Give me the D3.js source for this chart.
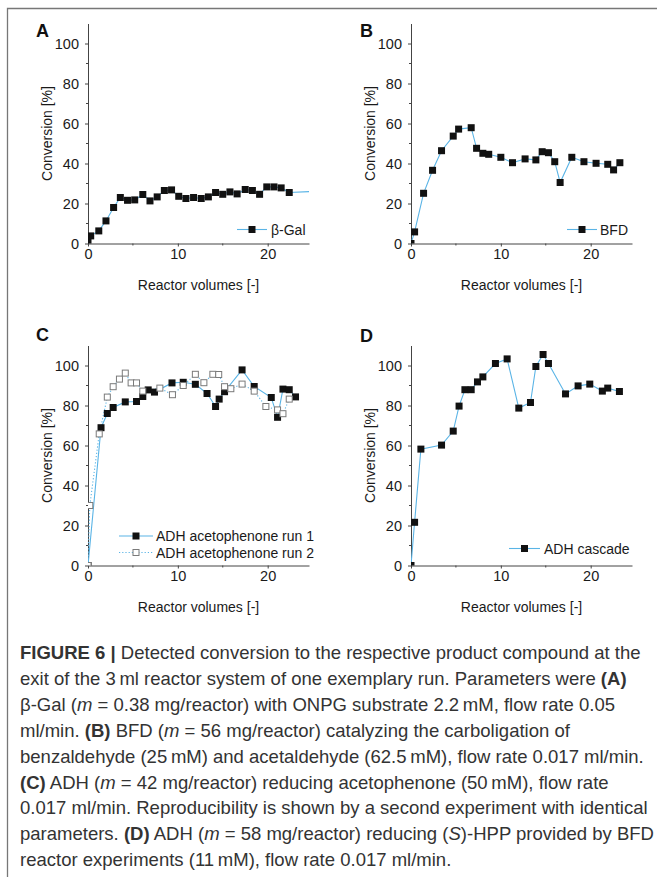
<!DOCTYPE html>
<html>
<head>
<meta charset="utf-8">
<script src="https://cdn.jsdelivr.net/npm/d3@7/dist/d3.min.js"></script>
<style>
  body { margin: 0; background: #fff; }
  svg { display: block; }
  .tick text { font-family: "Liberation Sans", Arial, sans-serif; font-size: 14.5px; fill: #1a1a1a; }
</style>
</head>
<body>
<div id="fig"></div>
<script>
// panel A: beta-Gal
var galX = [0, 0.3, 1.2, 2.0, 2.85, 3.6, 4.4, 5.2, 6.1, 6.9, 7.7, 8.5, 9.3, 10.1, 10.9, 11.75, 12.6, 13.4, 14.2, 15.0, 15.8, 16.6, 17.5, 18.3, 19.1, 19.9, 20.7, 21.5, 22.4];
var galY = [0.5, 3.8, 6.3, 11.3, 18, 23, 21.6, 21.8, 24.5, 21.3, 23.3, 26.5, 26.8, 23.6, 22.5, 23, 22.5, 23.3, 25.5, 24.6, 25.8, 24.8, 27, 26.5, 24.6, 28.3, 28.3, 27.8, 25.5];
var galTail = [24.8, 26];   // line runs on past the last marker

// panel B: BFD
var bfdX = [0, 0.4, 1.4, 2.4, 3.4, 4.7, 5.3, 6.7, 7.3, 8.0, 8.65, 10.0, 11.3, 12.7, 13.9, 14.6, 15.3, 16.0, 16.6, 17.9, 19.25, 20.6, 21.9, 22.55, 23.25];
var bfdY = [0, 5.8, 25.1, 36.6, 46.4, 53.7, 57.2, 57.9, 47.6, 45.1, 44.6, 43.1, 40.4, 42.3, 41.8, 45.9, 45.4, 40.9, 30.5, 43.1, 40.9, 40.1, 39.6, 36.8, 40.4];

// panel C: ADH acetophenone, two runs
var adh1X = [0, 1.45, 2.15, 2.8, 4.15, 5.4, 6.1, 6.7, 7.4, 9.35, 10.6, 11.95, 13.25, 14.2, 14.6, 15.2, 17.15, 18.5, 20.4, 21.1, 21.7, 22.4, 23.1];
var adh1Y = [0, 68.9, 76, 79, 81.8, 82, 84.5, 87.8, 86.7, 91.3, 91.6, 90.6, 86, 79.5, 83.2, 86.9, 97.8, 89.5, 84, 74.1, 88.2, 87.9, 84.3];
var adh2X = [0, 0.2, 1.25, 2.15, 2.8, 3.5, 4.15, 4.8, 5.4, 6.1, 8.0, 9.4, 10.6, 11.95, 12.9, 13.9, 14.55, 15.2, 15.9, 17.15, 18.5, 19.8, 21.1, 21.7, 22.4];
var adh2Y = [0, 30, 65.8, 84.2, 89.4, 93.2, 96.2, 91.3, 91.3, 87.2, 88.7, 85.4, 90, 95.6, 91.4, 95.6, 95.5, 89.4, 88.4, 90.7, 87.2, 79.5, 77.8, 75.9, 83.2];

// panel D: ADH cascade
var cascX = [0, 0.4, 1.1, 3.4, 4.7, 5.35, 6.0, 6.7, 7.4, 8.0, 9.4, 10.7, 12.0, 13.3, 13.9, 14.7, 15.3, 17.2, 18.6, 19.9, 21.3, 21.9, 23.2];
var cascY = [0, 21.6, 58.2, 60.2, 67.2, 79.7, 87.9, 87.9, 91.8, 94.3, 101, 103.3, 78.7, 81.5, 99.5, 105.5, 101, 85.8, 89.8, 90.7, 87.2, 88.7, 87];

var xTicks = [0, 10, 20],
    xMinor = [5, 15],
    yTicks = [0, 20, 40, 60, 80, 100],
    yMinor = [10, 30, 50, 70, 90];

var xTitle = "Reactor volumes [-]",
    yTitle = "Conversion [%]";

var captionLines = [
  [["FIGURE 6 | ", "b"], ["Detected conversion to the respective product compound at the", ""]],
  [["exit of the 3\u2009ml reactor system of one exemplary run. Parameters were ", ""], ["(A)", "b"]],
  [["\u03b2-Gal (", ""], ["m", "i"], [" = 0.38 mg/reactor) with ONPG substrate 2.2\u2009mM, flow rate 0.05", ""]],
  [["ml/min. ", ""], ["(B)", "b"], [" BFD (", ""], ["m", "i"], [" = 56 mg/reactor) catalyzing the carboligation of", ""]],
  [["benzaldehyde (25\u2009mM) and acetaldehyde (62.5\u2009mM), flow rate 0.017 ml/min.", ""]],
  [["(C)", "b"], [" ADH (", ""], ["m", "i"], [" = 42 mg/reactor) reducing acetophenone (50\u2009mM), flow rate", ""]],
  [["0.017 ml/min. Reproducibility is shown by a second experiment with identical", ""]],
  [["parameters. ", ""], ["(D)", "b"], [" ADH (", ""], ["m", "i"], [" = 58 mg/reactor) reducing (", ""], ["S", "i"], [")-HPP provided by BFD", ""]],
  [["reactor experiments (11\u2009mM), flow rate 0.017 ml/min.", ""]]
];
// lines that run to the right margin, used to set the condensing factor
var captionFullLines = [0, 1, 6, 7],
    captionFullWidths = [617, 621, 627, 625];

var blue = "#5ab4e6";
var font = '"Liberation Sans", Arial, sans-serif';

var width = 657, height = 877;
var plotW = 221, plotH = 220;

var svg = d3.select("#fig").append("svg")
    .attr("width", width)
    .attr("height", height);

svg.append("rect").attr("width", width).attr("height", height).attr("fill", "#fff");

// grey frame, top and left
svg.append("path")
    .attr("d", "M657,8.5H7.5V877")
    .attr("fill", "none")
    .attr("stroke", "#777")
    .attr("stroke-width", 1.3);

function zip(xs, ys) { return xs.map(function(v, i) { return [v, ys[i]]; }); }

var panels = [
  { letter: "A", left: 88, top: 23.5, lx: 36, ly: 36.5,
    series: [{ pts: zip(galX, galY), tail: galTail, open: false, dash: null, label: "\u03b2-Gal" }],
    legend: { x1: 237, x2: 267, y: 229.5, tx: 271, dy: 17 } },
  { letter: "B", left: 411, top: 23.5, lx: 360, ly: 36.5,
    series: [{ pts: zip(bfdX, bfdY), open: false, dash: null, label: "BFD" }],
    legend: { x1: 567, x2: 597, y: 229.5, tx: 600, dy: 17 } },
  { letter: "C", left: 88, top: 345.5, lx: 36, ly: 340.5,
    series: [{ pts: zip(adh1X, adh1Y), open: false, dash: null, label: "ADH acetophenone run 1" },
             { pts: zip(adh2X, adh2Y), open: true, dash: "1.2,2", label: "ADH acetophenone run 2" }],
    legend: { x1: 119, x2: 153, y: 536, tx: 156, dy: 16.5 } },
  { letter: "D", left: 411, top: 345.5, lx: 360, ly: 341.5,
    series: [{ pts: zip(cascX, cascY), open: false, dash: null, label: "ADH cascade" }],
    legend: { x1: 509, x2: 540, y: 548.5, tx: 544, dy: 17 } }
];

panels.forEach(function(p, pi) {
  var g = svg.append("g").attr("transform", "translate(" + p.left + "," + p.top + ")");

  var x = d3.scaleLinear().domain([0, 24.6]).range([0, plotW]);
  var y = d3.scaleLinear().domain([0, 110]).range([plotH, 0]);

  // axes
  var xAxis = d3.axisBottom(x).tickValues(xTicks).tickSize(3).tickSizeOuter(0).tickPadding(2);
  var yAxis = d3.axisLeft(y).tickValues(yTicks).tickSize(3).tickSizeOuter(0).tickPadding(6);

  var gx = g.append("g").attr("transform", "translate(0," + plotH + ")").call(xAxis);
  var gy = g.append("g").call(yAxis);
  [gx, gy].forEach(function(a) {
    a.select(".domain").attr("stroke", "#444");
    a.selectAll(".tick line").attr("stroke", "#444");
  });

  // minor ticks
  g.selectAll(".xminor").data(xMinor).enter().append("line")
      .attr("x1", function(d) { return x(d); }).attr("x2", function(d) { return x(d); })
      .attr("y1", plotH).attr("y2", plotH + 2)
      .attr("stroke", "#444");
  g.selectAll(".yminor").data(yMinor).enter().append("line")
      .attr("y1", function(d) { return y(d); }).attr("y2", function(d) { return y(d); })
      .attr("x1", 0).attr("x2", -2)
      .attr("stroke", "#444");

  // titles
  g.append("text")
      .attr("x", plotW / 2).attr("y", plotH + 46.5)
      .attr("text-anchor", "middle")
      .attr("font-family", font).attr("font-size", 14).attr("fill", "#1a1a1a")
      .text(xTitle);
  g.append("text")
      .attr("transform", "translate(-36," + (plotH / 2) + ") rotate(-90)")
      .attr("text-anchor", "middle")
      .attr("font-family", font).attr("font-size", 14).attr("fill", "#1a1a1a")
      .text(yTitle);

  svg.append("text")
      .attr("x", p.lx).attr("y", p.ly)
      .attr("font-family", font).attr("font-size", 18).attr("font-weight", "bold")
      .attr("fill", "#111")
      .text(p.letter);

  // clip to plot area
  var clipId = "clip" + pi;
  g.append("clipPath").attr("id", clipId)
    .append("rect").attr("width", plotW).attr("height", plotH);

  var plot = g.append("g").attr("clip-path", "url(#" + clipId + ")");

  var line = d3.line()
      .x(function(d) { return x(d[0]); })
      .y(function(d) { return y(d[1]); });

  p.series.forEach(function(s) {
    var linePts = s.tail ? s.pts.concat([s.tail]) : s.pts;
    plot.append("path")
        .datum(linePts)
        .attr("d", line)
        .attr("fill", "none")
        .attr("stroke", blue)
        .attr("stroke-width", 1.1)
        .attr("stroke-dasharray", s.dash);
  });

  p.series.forEach(function(s) {
    var sz = s.open ? 6 : 7;
    plot.selectAll(null)
        .data(s.pts)
        .enter()
      .append("rect")
        .attr("x", function(d) { return x(d[0]) - sz / 2; })
        .attr("y", function(d) { return y(d[1]) - sz / 2; })
        .attr("width", sz).attr("height", sz)
        .attr("fill", s.open ? "#fff" : "#111")
        .attr("stroke", s.open ? "#7a7a7a" : "none")
        .attr("stroke-width", 1);
  });

  // legend
  var L = p.legend;
  p.series.forEach(function(s, i) {
    var ly = L.y + i * L.dy;
    var mx = (L.x1 + L.x2) / 2;
    svg.append("line")
        .attr("x1", L.x1).attr("x2", L.x2).attr("y1", ly).attr("y2", ly)
        .attr("stroke", blue).attr("stroke-width", 1.1)
        .attr("stroke-dasharray", s.dash);
    var sz = s.open ? 6 : 7;
    svg.append("rect")
        .attr("x", mx - sz / 2).attr("y", ly - sz / 2)
        .attr("width", sz).attr("height", sz)
        .attr("fill", s.open ? "#fff" : "#111")
        .attr("stroke", s.open ? "#7a7a7a" : "none");
    svg.append("text")
        .attr("x", L.tx).attr("y", ly + 5)
        .attr("font-family", font).attr("font-size", 14).attr("fill", "#1a1a1a")
        .text(s.label);
  });
});

// caption: one condensing factor for all lines (the original face is a narrow one)
var cap = svg.append("g");
var capTexts = captionLines.map(function(segs, i) {
  var t = cap.append("text")
      .attr("x", 0)
      .attr("y", 0)
      .attr("font-family", font)
      .attr("font-size", 18)
      .attr("fill", "#333");
  segs.forEach(function(sg) {
    t.append("tspan")
        .attr("font-weight", sg[1] === "b" ? "bold" : null)
        .attr("font-style", sg[1] === "i" ? "italic" : null)
        .text(sg[0]);
  });
  return t;
});
var k = d3.mean(captionFullLines, function(li, j) {
  return captionFullWidths[j] / capTexts[li].node().getComputedTextLength();
});
capTexts.forEach(function(t, i) {
  t.attr("transform", "translate(20," + (659 + i * 25.9) + ") scale(" + k + ",1)");
});
</script>
</body>
</html>
